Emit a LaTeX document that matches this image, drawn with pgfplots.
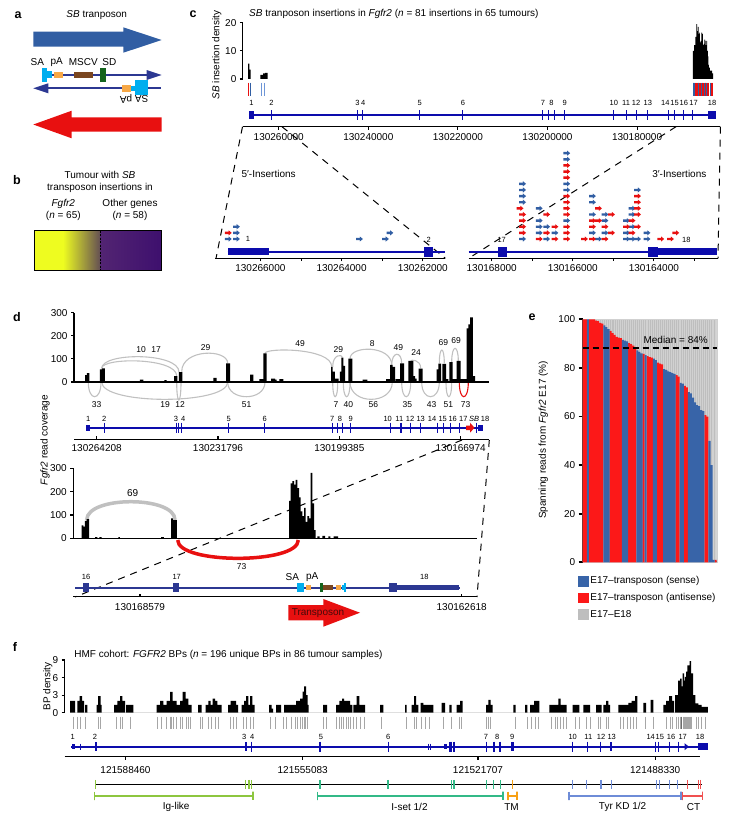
\documentclass[border=0pt]{standalone}
\usepackage{fontspec}
\setmainfont{Liberation Sans}
\usepackage{pgfplots}
\pgfplotsset{compat=1.18}

\definecolor{sbblue}{RGB}{49,94,163}
\definecolor{sbred}{RGB}{232,16,16}
\definecolor{ered}{RGB}{252,24,24}
\definecolor{eblue}{RGB}{56,100,168}
\definecolor{egray}{RGB}{190,190,190}
\definecolor{navy}{RGB}{44,56,146}
\definecolor{genebl}{RGB}{12,12,172}
\definecolor{sacyan}{RGB}{0,174,239}
\definecolor{paorange}{RGB}{247,168,70}
\definecolor{mscvbrown}{RGB}{122,70,32}
\definecolor{sdgreen}{RGB}{20,100,30}
\definecolor{arcgray}{RGB}{192,192,192}
\definecolor{lightsb}{RGB}{110,150,215}
\definecolor{iggreen}{RGB}{141,198,63}
\definecolor{isteal}{RGB}{50,185,135}
\definecolor{tmorange}{RGB}{247,160,20}
\definecolor{tyrblue}{RGB}{110,140,215}
\definecolor{ctred}{RGB}{240,80,80}
\definecolor{byellow}{RGB}{238,252,32}
\definecolor{bbrown}{RGB}{98,76,84}
\definecolor{bpurpleA}{RGB}{82,36,114}
\definecolor{bpurpleB}{RGB}{62,16,110}
\definecolor{tptext}{RGB}{70,10,10}

\newcommand{\fs}{\fontsize{10}{12}\selectfont}
\newcommand{\fsa}{\fontsize{8.5}{10}\selectfont}
\newcommand{\fsm}{\fontsize{7.5}{9}\selectfont}
\newcommand{\fpl}{\fontsize{12.5}{14}\selectfont\bfseries}
\newcommand{\rect}[5]{\addplot[fill=#1,draw=none] coordinates {(#2,#3)(#4,#3)(#4,#5)(#2,#5)} --cycle;}
\newcommand{\lbl}[4][\fsm]{\node[font=#1,inner sep=0pt] at (axis cs:#2,#3) {#4};}
\newcommand{\arc}[6][arcgray]{\draw[#1,line width=1.1pt] (axis cs:#2,#3) .. controls (axis cs:#2,#6) and (axis cs:#4,#6) .. (axis cs:#4,#5);}

\pgfdeclareplotmark{sbarrow}{%
  \pgfpathmoveto{\pgfqpoint{-3.4pt}{-1.2pt}}%
  \pgfpathlineto{\pgfqpoint{0.3pt}{-1.2pt}}%
  \pgfpathlineto{\pgfqpoint{0.3pt}{-2.6pt}}%
  \pgfpathlineto{\pgfqpoint{3.4pt}{0pt}}%
  \pgfpathlineto{\pgfqpoint{0.3pt}{2.6pt}}%
  \pgfpathlineto{\pgfqpoint{0.3pt}{1.2pt}}%
  \pgfpathlineto{\pgfqpoint{-3.4pt}{1.2pt}}%
  \pgfpathclose
  \pgfusepathqfill
}

\pgfplotsset{
  dataax/.style={scale only axis, anchor=north west, clip=false,
    /pgf/number format/assume math mode=true,
    tick label style={font=\fs}, axis line style={line width=1.1pt},
    major tick style={line width=1.1pt,black}, minor tick style={line width=0.9pt,black},
    tick align=outside, major tick length=3pt, minor tick length=2.5pt},
  genetick/.style={only marks, mark=|, mark size=5pt, genebl, mark options={line width=1.1pt}},
  ebar/.style={ybar, bar width=2.12pt, bar shift=0pt, forget plot},
}

\begin{document}
\begin{tikzpicture}
\path (0pt,0pt) rectangle (751pt,-824pt);
% ================= schematic layer in pixel coordinates =================
\begin{axis}[at={(0pt,0pt)}, anchor=north west, scale only axis, width=751pt, height=824pt,
  xmin=0, xmax=751, ymin=0, ymax=824, y dir=reverse, hide axis, clip=false]
% panel letters
\lbl[\fpl]{18}{15}{a}
\lbl[\fpl]{17}{180}{b}
\lbl[\fpl]{193}{14}{c}
\lbl[\fpl]{17}{317}{d}
\lbl[\fpl]{532}{317}{e}
\lbl[\fpl]{15}{647}{f}
% ---------- panel a ----------
\lbl[\fs]{96.7}{15}{\textit{SB} tranposon}
\addplot[fill=sbblue,draw=none] coordinates {(33.3,31.7)(123.3,31.7)(123.3,27.3)(161.7,40)(123.3,52.7)(123.3,46.7)(33.3,46.7)} --cycle;
\lbl[\fs]{37.3}{61.7}{SA}
\lbl[\fs]{56.7}{61.7}{pA}
\lbl[\fs]{83.3}{61.7}{MSCV}
\lbl[\fs]{109.3}{61.7}{SD}
\addplot[navy,line width=2pt] coordinates {(50,75)(148,75)};
\addplot[fill=navy,draw=none] coordinates {(146.7,70)(161.7,75)(146.7,80)} --cycle;
\rect{sacyan}{41.7}{68.3}{46.7}{81.7}
\rect{sacyan}{46.7}{70.7}{51.7}{78.3}
\rect{paorange}{54}{71.7}{62.7}{78.3}
\rect{mscvbrown}{74}{71.7}{92.7}{78.3}
\rect{sdgreen}{100}{68.3}{106}{81.7}
\addplot[navy,line width=2pt] coordinates {(47,88.3)(161,88.3)};
\addplot[fill=navy,draw=none] coordinates {(48.3,83.3)(33.3,88.3)(48.3,93.3)} --cycle;
\rect{paorange}{121.7}{85}{131}{91.7}
\rect{sacyan}{131}{86}{135.5}{90.7}
\rect{sacyan}{135}{80}{148.3}{95}
\node[font=\fs,rotate=180,inner sep=0pt] at (axis cs:126,99.3) {pA};
\node[font=\fs,rotate=180,inner sep=0pt] at (axis cs:141.7,99.3) {SA};
\addplot[fill=sbred,draw=none] coordinates {(161.7,117.3)(71.7,117.3)(71.7,110.7)(33.3,124.5)(71.7,138.3)(71.7,131.7)(161.7,131.7)} --cycle;
% ---------- panel b ----------
\lbl[\fs]{100}{175}{Tumour with \textit{SB}}
\lbl[\fs]{100}{187.5}{transposon insertions in}
\lbl[\fs]{63.3}{204}{\textit{Fgfr2}}
\lbl[\fs]{63.3}{216}{(\textit{n} = 65)}
\lbl[\fs]{130}{204}{Other genes}
\lbl[\fs]{130}{216}{(\textit{n} = 58)}
\rect{byellow}{34.3}{230.7}{63.2}{270}
\addplot[draw=none,left color=byellow,right color=bbrown] coordinates {(63,230.7)(100.7,230.7)(100.7,270)(63,270)} --cycle;
\addplot[draw=none,left color=bpurpleA,right color=bpurpleB] coordinates {(100.7,230.7)(161,230.7)(161,270)(100.7,270)} --cycle;
\addplot[black,line width=1pt] coordinates {(34.3,230.7)(161,230.7)(161,270)(34.3,270)} --cycle;
\addplot[black,line width=1.3pt,dash pattern=on 2pt off 1.5pt] coordinates {(100.7,230.7)(100.7,270)};
% ---------- panel c : texts, gene, zoom lines ----------
\node[font=\fs,anchor=west,inner sep=0pt] at (axis cs:249,14) {\textit{SB} tranposon insertions in \textit{Fgfr2} (\textit{n} = 81 insertions in 65 tumours)};
\node[font=\fs,rotate=90,inner sep=0pt] at (axis cs:216.8,55) {\textit{SB} insertion density};
\addplot[genebl,line width=1.6pt] coordinates {(248.9,115)(715.7,115)};
\rect{genebl}{248.9}{111.3}{253.6}{118.7}
\rect{genebl}{707.9}{111.3}{715.7}{118.7}
\addplot[genetick] coordinates {(271.4,115)(357.9,115)(362.9,115)(419.6,115)(462.9,115)(542.9,115)(548.2,115)(554.6,115)(564.6,115)(613.9,115)(626.1,115)(636.1,115)(647.9,115)(668.6,115)(674.6,115)(683.9,115)(692.9,115)};
\lbl{251.4}{103.3}{1}\lbl{271.4}{103.3}{2}\lbl{357.4}{103.3}{3}\lbl{363.2}{103.3}{4}
\lbl{419.6}{103.3}{5}\lbl{462.9}{103.3}{6}\lbl{542.9}{103.3}{7}\lbl{551.4}{103.3}{8}
\lbl{564.6}{103.3}{9}\lbl{613.9}{103.3}{10}\lbl{626.1}{103.3}{11}\lbl{636.1}{103.3}{12}
\lbl{647.9}{103.3}{13}\lbl{665.4}{103.3}{14}\lbl{674.6}{103.3}{15}\lbl{683.9}{103.3}{16}
\lbl{693.6}{103.3}{17}\lbl{712.1}{103.3}{18}
\addplot[black,line width=1pt,dash pattern=on 7pt off 6pt] coordinates {(242.5,126.7)(216,258.3)};
\addplot[black,line width=1pt,dash pattern=on 7pt off 6pt] coordinates {(282,126.7)(445.4,258.3)};
\addplot[black,line width=1pt,dash pattern=on 7pt off 6pt] coordinates {(676,126.7)(468.6,258.3)};
\addplot[black,line width=1pt,dash pattern=on 7pt off 6pt] coordinates {(720.4,126.7)(718,258.3)};
\lbl[\fs]{268.6}{174.3}{5′-Insertions}
\lbl[\fs]{679.3}{174.3}{3′-Insertions}
% sub gene left
\addplot[genebl,line width=1.6pt] coordinates {(227.5,251.7)(445.4,251.7)};
\rect{genebl}{227.5}{248.3}{269.3}{255}
\rect{genebl}{423.9}{247}{432.9}{256.7}
\lbl{247.9}{239}{1}\lbl{428.6}{239.5}{2}
% sub gene right
\addplot[genebl,line width=1.6pt] coordinates {(468.6,251.7)(716.8,251.7)};
\rect{genebl}{497.9}{247}{506.8}{256.7}
\rect{genebl}{648.2}{247}{657.9}{256.7}
\rect{genebl}{657.9}{248.3}{716.8}{255}
\lbl{501.7}{240}{17}\lbl{686.4}{240}{18}
% ---------- panel d : gene, arcs ----------
\node[font=\fs,rotate=90,inner sep=0pt] at (axis cs:45,440) {\textit{Fgfr2} read coverage};
\arc{101.7}{368.3}{179}{372}{352.2}
\arc{101.7}{368.3}{176.7}{376}{357.3}
\arc{181.7}{371.7}{227.7}{363.3}{348.6}
\arc{265}{353.3}{331.7}{366.7}{347.6}
\arc{332.7}{366.7}{342.3}{357.3}{354}
\arc{350}{358.7}{391.7}{365}{345.1}
\arc{391.7}{365}{401.7}{363.3}{351}
\arc{410.7}{361}{420.7}{368.3}{359.4}
\arc{439.3}{363.3}{444.3}{363.3}{345.6}
\arc{451.7}{362}{458.3}{361}{343.9}
\arc{88.3}{382}{101}{382}{401.6}
\arc{101.7}{382}{227.7}{382}{405.1}
\arc{176.7}{382}{181}{382}{406}
\arc{227.7}{382}{265}{382}{401.6}
\arc{332.7}{382}{337.7}{382}{401.6}
\arc{343.3}{382}{350}{382}{401.6}
\arc{350}{382}{392.3}{382}{405.1}
\arc{401.7}{382}{410.7}{382}{401.6}
\arc{421.7}{382}{439.3}{382}{401.6}
\arc{446}{382}{451.7}{382}{401.6}
\arc[sbred]{459.3}{382}{468.3}{382}{401.6}
\lbl[\fsa]{141}{349.3}{10}\lbl[\fsa]{156}{349.3}{17}\lbl[\fsa]{205.7}{347.3}{29}
\lbl[\fsa]{300}{343.3}{49}\lbl[\fsa]{338.3}{349.3}{29}\lbl[\fsa]{372.3}{343.3}{8}
\lbl[\fsa]{398.3}{347.3}{49}\lbl[\fsa]{416}{352.3}{24}\lbl[\fsa]{443.3}{342.3}{69}
\lbl[\fsa]{456}{340.7}{69}
\lbl[\fsa]{96.7}{404.3}{33}\lbl[\fsa]{165}{404.3}{19}\lbl[\fsa]{180}{404.3}{12}
\lbl[\fsa]{246.7}{404.3}{51}\lbl[\fsa]{336}{404.3}{7}\lbl[\fsa]{348.3}{404.3}{40}
\lbl[\fsa]{373.3}{404.3}{56}\lbl[\fsa]{407.3}{404.3}{35}\lbl[\fsa]{431.7}{404.3}{43}
\lbl[\fsa]{448.3}{404.3}{51}\lbl[\fsa]{465.7}{404.3}{73}
\addplot[genebl,line width=1.6pt] coordinates {(86,427.7)(482.7,427.7)};
\rect{genebl}{86}{424.7}{90}{430.7}
\rect{genebl}{478.3}{424.7}{482.7}{430.7}
\addplot[genetick] coordinates {(104.3,427.7)(176.7,427.7)(178.3,427.7)(181.7,427.7)(228.7,427.7)(264.7,427.7)(332.7,427.7)(337.7,427.7)(342.3,427.7)(350.7,427.7)(390.7,427.7)(401,427.7)(410.7,427.7)(420.7,427.7)(437.7,427.7)(443.3,427.7)(450.7,427.7)(459.3,427.7)(476.7,427.7)};
\addplot[fill=sbred,draw=none] coordinates {(466,425.5)(470,425.5)(470,422.7)(474.5,427.7)(470,432.7)(470,430)(466,430)} --cycle;
\lbl{88.3}{419}{1}\lbl{104.3}{419}{2}\lbl{176}{419}{3}\lbl{183.3}{419}{4}
\lbl{228.7}{419}{5}\lbl{264.7}{419}{6}\lbl{332.3}{419}{7}\lbl{340}{419}{8}
\lbl{350.7}{419}{9}\lbl{387.7}{419}{10}\lbl{399.3}{419}{11}\lbl{410}{419}{12}
\lbl{420.7}{419}{13}\lbl{432}{419}{14}\lbl{442.7}{419}{15}\lbl{452.7}{419}{16}
\lbl{463.3}{419}{17}\lbl{474}{419}{\textit{SB}}\lbl{485}{419}{18}
\addplot[black,line width=1pt,dash pattern=on 7pt off 6pt] coordinates {(462,440)(75,597)};
\addplot[black,line width=1pt,dash pattern=on 7pt off 6pt] coordinates {(489.3,440)(477,597)};
% lower d
\draw[arcgray,line width=3.5pt] (axis cs:86.7,520) .. controls (axis cs:86.7,495.6) and (axis cs:175,495.6) .. (axis cs:175,520);
\draw[sbred,line width=3.5pt] (axis cs:177.7,540) .. controls (axis cs:177.7,564.4) and (axis cs:298.3,564.4) .. (axis cs:298.3,540);
\lbl[\fs]{132.7}{493.3}{69}
\lbl[\fsa]{241.7}{566.7}{73}
\addplot[navy,line width=2pt] coordinates {(75,587.7)(460,587.7)};
\rect{navy}{82.7}{583.3}{89}{592.3}
\rect{navy}{173.3}{583.3}{179.3}{592.3}
\rect{navy}{389.3}{583.3}{396.7}{592.3}
\rect{navy}{396.7}{585.4}{459.3}{590}
\rect{sacyan}{296.7}{583.3}{304}{592.3}
\rect{paorange}{306}{585.4}{310.7}{590}
\rect{sdgreen}{320}{583.3}{322.7}{592.3}
\rect{mscvbrown}{323.3}{585.4}{333.3}{590}
\rect{paorange}{336}{585.4}{340.7}{590}
\rect{sacyan}{341.5}{585.4}{344}{590}
\rect{sacyan}{344}{583.3}{346}{592.3}
\lbl{86}{576.7}{16}\lbl{176.7}{576.7}{17}\lbl{424.3}{576.7}{18}
\lbl[\fs]{292.3}{576.7}{SA}\lbl[\fs]{312.3}{576.7}{pA}
\addplot[fill=sbred,draw=none] coordinates {(288.3,605)(323.3,605)(323.3,599)(360,612.7)(323.3,626.7)(323.3,620.4)(288.3,620.4)} --cycle;
\node[font=\fs,text=tptext,inner sep=0pt] at (axis cs:318,612.7) {Transposon};
% ---------- panel e label ----------
\node[font=\fs,rotate=90,inner sep=0pt] at (axis cs:543.3,440) {Spanning reads from \textit{Fgfr2} E17 (\%)};
% ---------- panel f ----------
\node[font=\fs,anchor=west,inner sep=0pt] at (axis cs:74.2,655) {HMF cohort: \textit{FGFR2} BPs (\textit{n} = 196 unique BPs in 86 tumour samples)};
\node[font=\fs,rotate=90,inner sep=0pt] at (axis cs:47.9,686.7) {BP density};
\addplot[genebl,line width=1.6pt] coordinates {(71,746.7)(708.3,746.7)};
\rect{genebl}{71.7}{744}{75}{749.3}
\rect{genebl}{95}{742}{96.9}{751.4}
\rect{genebl}{245}{742}{247.2}{751.4}
\rect{genebl}{444.3}{744}{446.7}{749.3}
\rect{genebl}{511.3}{742}{513.5}{751.4}
\rect{genebl}{610}{742}{612.2}{751.4}
\rect{genebl}{698.3}{743}{708.3}{750.4}
\addplot[fill=genebl,draw=none] coordinates {(684.5,743.2)(689,746.7)(684.5,750.2)} --cycle;
\addplot[genetick] coordinates {(251.7,746.7)(320,746.7)(388.3,746.7)(450,746.7)(451.7,746.7)(454,746.7)(486.7,746.7)(494,746.7)(500,746.7)(572.7,746.7)(587.7,746.7)(600.7,746.7)(655.7,746.7)(658.7,746.7)(669.3,746.7)(678.3,746.7)};
\addplot[only marks,mark=|,mark size=3pt,genebl,mark options={line width=1pt}] coordinates {(80.7,746.7)(428.3,746.7)(430.7,746.7)};
\lbl{72.7}{737.3}{1}\lbl{95}{737.3}{2}\lbl{244.3}{737.3}{3}\lbl{252.3}{737.3}{4}
\lbl{321}{737.3}{5}\lbl{388.3}{737.3}{6}\lbl{486}{737.3}{7}\lbl{497.3}{737.3}{8}
\lbl{512.3}{737.3}{9}\lbl{572.7}{737.3}{10}\lbl{588.3}{737.3}{11}\lbl{601}{737.3}{12}
\lbl{611.7}{737.3}{13}\lbl{650.7}{737.3}{14}\lbl{659.8}{737.3}{15}\lbl{671}{737.3}{16}
\lbl{682.7}{737.3}{17}\lbl{700}{737.3}{18}
% domain track
\addplot[black,line width=1.6pt] coordinates {(95.8,784.3)(701.6,784.3)};
\addplot[only marks,mark=|,mark size=4.7pt,iggreen,mark options={line width=1.1pt}] coordinates {(95.8,784.6)(245.2,784.6)(249,784.6)(251.4,784.6)};
\addplot[only marks,mark=|,mark size=4.7pt,isteal,mark options={line width=1.1pt}] coordinates {(320,784.6)(388,784.6)(451.6,784.6)(454,784.6)(486.1,784.6)(493.3,784.6)(500.5,784.6)};
\addplot[only marks,mark=|,mark size=4.7pt,tmorange,mark options={line width=1.1pt}] coordinates {(512.5,784.6)};
\addplot[only marks,mark=|,mark size=4.7pt,tyrblue,mark options={line width=1.1pt}] coordinates {(572.3,784.6)(586.7,784.6)(601,784.6)(611.1,784.6)(656.1,784.6)(659.5,784.6)(669.5,784.6)(677.7,784.6)};
\addplot[only marks,mark=|,mark size=4.7pt,ctred,mark options={line width=1.1pt}] coordinates {(687.3,784.6)(698.3,784.6)(700.2,784.6)};
\addplot[iggreen,line width=1.6pt] coordinates {(94.3,791.7)(94.3,800)(94.3,795.8)(252.9,795.8)(252.9,791.7)(252.9,800)};
\addplot[isteal,line width=1.6pt] coordinates {(317.5,791.7)(317.5,800)(317.5,795.8)(502.9,795.8)(502.9,791.7)(502.9,800)};
\addplot[tmorange,line width=1.6pt] coordinates {(507.7,791.7)(507.7,800)(507.7,795.8)(517.2,795.8)(517.2,791.7)(517.2,800)};
\addplot[tyrblue,line width=1.6pt] coordinates {(569,791.7)(569,800)(569,795.8)(681,795.8)(681,791.7)(681,800)};
\addplot[ctred,line width=1.6pt] coordinates {(682.5,791.7)(682.5,800)(682.5,795.8)(702.6,795.8)(702.6,791.7)(702.6,800)};
\lbl[\fs]{176.2}{807}{Ig-like}
\lbl[\fs]{409.5}{807}{I-set 1/2}
\lbl[\fs]{511.5}{807}{TM}
\lbl[\fs]{622.6}{807}{Tyr KD 1/2}
\lbl[\fs]{693.5}{807}{CT}
\end{axis}

% ================= panel c : density bars =================
\begin{axis}[dataax, at={(242.9pt,-22.7pt)}, width=477.5pt, height=56.3pt,
  xmin=2.0, xmax=108.6, ymin=0, ymax=20, axis x line=none, axis y line*=left, ytick={0,10,20}]
\addplot[const plot,fill=black,draw=none] coordinates {(3.19,5.5)(3.44,3.3)(3.75,0)} \closedcycle;
\addplot[const plot,fill=black,draw=none] coordinates {(5.91,1.5)(6.54,2.0)(6.94,2.2)(7.5,0)} \closedcycle;
\addplot[const plot,fill=black,draw=none] coordinates {(102.45,10)(102.75,12)(103.0,15)(103.24,19.5)(103.4,17)(103.56,18.5)(103.72,16)(103.88,16.5)(104.04,13)(104.20,13.5)(104.36,16.5)(104.52,16)(104.68,12)(104.84,12.5)(105.0,14)(105.16,13.5)(105.32,12)(105.48,13.5)(105.64,10)(105.80,8)(105.92,5)(106.03,4)(106.27,3)(106.51,3)(106.75,2)(106.99,0)} \closedcycle;
\addplot[only marks,mark=|,mark size=6.5pt,sbred,mark options={line width=1pt}] coordinates {(3.19,-3.62)(103.0,-3.62)(103.2,-3.62)(103.45,-3.62)(103.8,-3.62)(104.0,-3.62)(104.15,-3.62)(104.5,-3.62)(104.7,-3.62)(104.9,-3.62)(105.2,-3.62)(105.35,-3.62)(105.7,-3.62)(105.9,-3.62)(106.6,-3.62)(106.9,-3.62)};
\addplot[only marks,mark=|,mark size=6.5pt,sbblue,mark options={line width=1pt}] coordinates {(3.6,-3.62)(102.5,-3.62)(102.65,-3.62)(102.8,-3.62)(103.6,-3.62)(104.35,-3.62)(105.0,-3.62)(105.5,-3.62)(106.3,-3.62)};
\addplot[only marks,mark=|,mark size=6.5pt,lightsb,mark options={line width=1pt}] coordinates {(6.2,-3.62)(6.9,-3.62)};
\end{axis}
% genomic axis of c
\begin{axis}[dataax, anchor=south west, at={(242.9pt,-126.7pt)}, width=477.5pt, height=4pt,
  xmin=2.0, xmax=108.6, ymin=0, ymax=1, axis x line*=bottom, axis y line=none,
  xtick={10,30,50,70,90}, xticklabels={130260000,130240000,130220000,130200000,130180000}]
\addplot[draw=none] coordinates {(50,0.5)};
\end{axis}
% c left zoom
\begin{axis}[dataax, at={(215pt,-140pt)}, width=230.4pt, height=118.3pt,
  xmin=2.882, xmax=8.557, ymin=0, ymax=19.3, axis x line*=bottom, axis y line=none,
  xtick={4,6,8}, xticklabels={130266000,130264000,130262000}, minor xtick={5,7}]
\addplot[only marks,mark=sbarrow,sbblue] coordinates {(3.21,3.15)(3.41,3.15)(3.41,4.15)(3.41,5.15)(6.44,3.15)(7.08,3.15)(7.19,4.15)};
\addplot[only marks,mark=sbarrow,sbred] coordinates {(3.21,4.15)};
\end{axis}
% c right zoom
\begin{axis}[dataax, at={(468.6pt,-140pt)}, width=249.3pt, height=118.3pt,
  xmin=101.43, xmax=107.58, ymin=0, ymax=19.3, axis x line*=bottom, axis y line=none,
  xtick={102,104,106}, xticklabels={130168000,130166000,130164000}, minor xtick={103,105,107}]
\addplot[only marks,mark=sbarrow,sbblue] coordinates {
(102.763,3.15)(102.763,9.15)(102.763,10.15)(102.763,11.15)(102.763,12.15)
(103.173,4.15)(103.173,5.15)(103.173,6.15)(103.173,8.15)
(103.356,3.15)(103.356,5.15)
(103.560,4.15)
(103.852,6.15)(103.852,11.15)(103.852,12.15)(103.852,16.15)(103.852,17.15)
(104.486,4.15)(104.486,7.15)(104.486,9.15)(104.486,10.15)
(104.635,3.15)
(104.795,4.15)(104.795,6.15)(104.795,7.15)
(105.326,3.15)(105.326,4.15)(105.326,6.15)
(105.462,3.15)(105.462,5.15)(105.462,7.15)(105.462,8.15)
(105.598,3.15)(105.598,11.15)
(105.832,3.15)(105.832,4.15)};
\addplot[only marks,mark=sbarrow,sbred] coordinates {
(102.763,4.15)(102.763,5.15)(102.763,6.15)(102.763,7.15)(102.70,8.15)
(103.173,3.15)
(103.356,4.15)(103.356,7.15)
(103.560,3.15)(103.560,5.15)
(103.852,3.15)(103.852,4.15)(103.852,5.15)(103.852,7.15)(103.852,8.15)(103.852,9.15)(103.852,10.15)(103.852,13.15)(103.852,14.15)(103.852,15.15)
(104.289,3.15)
(104.486,3.15)(104.486,5.15)(104.486,6.15)
(104.635,6.15)(104.635,8.15)
(104.795,3.15)(104.795,5.15)
(104.956,4.15)(104.956,7.15)
(105.326,5.15)
(105.462,4.15)(105.462,6.15)
(105.598,5.15)(105.598,7.15)(105.598,8.15)(105.598,9.15)(105.598,10.15)
(106.170,3.15)(106.410,3.15)(106.541,4.15)};
\end{axis}

% ================= panel d : upper coverage =================
\begin{axis}[dataax, at={(74pt,-312.7pt)}, width=415.3pt, height=69.3pt,
  xmin=-0.27, xmax=110.68, ymin=0, ymax=300, axis x line*=bottom, axis y line*=left,
  xtick=\empty, ytick={0,100,200,300}]
\addplot[const plot,fill=black,draw=none] coordinates {(2.67,30)(3.2,38)(3.82,0)(6.67,55)(7.2,59)(8.01,0)(17.36,10)(18.25,0)(23.86,8)(24.49,0)(26.45,25)(27.34,0)(27.78,43)(28.67,0)(36.95,18)(37.84,0)(40.34,81)(41.41,0)(46.75,32)(47.64,0)(49.24,12)(50.31,124)(51.2,0)(52.36,15)(53.43,10)(53.87,0)(54.58,12)(55.65,0)(68.39,65)(68.83,45)(69.45,15)(70.43,0)(70.79,45)(71.15,105)(71.68,70)(72.13,0)(73.02,101)(74.09,0)(76.85,10)(78.10,0)(83.09,12)(84.16,74)(84.87,65)(85.49,0)(85.67,12)(86.83,81)(87.9,0)(89.06,91)(90.39,25)(90.84,15)(91.28,0)(91.82,58)(92.89,0)(96.63,55)(97.08,80)(97.79,0)(98.15,78)(99.13,12)(99.75,0)(100.02,86)(100.91,12)(101.98,91)(103.05,12)(104.65,232)(105.1,250)(105.54,280)(106.26,25)(106.88,0)} \closedcycle;
\end{axis}
\begin{axis}[dataax, anchor=south west, at={(74pt,-439.3pt)}, width=415.3pt, height=4pt,
  xmin=-0.27, xmax=110.68, ymin=0, ymax=1, axis x line*=bottom, axis y line=none, tick align=inside,
  xtick={5.792,38.204,70.615,103.026}, xticklabels={130264208,130231796,130199385,130166974},
  xticklabel style={yshift=-2pt}]
\addplot[draw=none] coordinates {(50,0.5)};
\end{axis}
% ================= panel d : lower coverage =================
\begin{axis}[dataax, at={(73.3pt,-468.3pt)}, width=403.4pt, height=70pt,
  xmin=0.185, xmax=7.66, ymin=0, ymax=300, axis x line*=bottom, axis y line*=left,
  xtick=\empty, ytick={0,100,200,300}]
\addplot[const plot,fill=black,draw=none] coordinates {(0.340,55)(0.370,50)(0.401,75)(0.432,82)(0.476,0)(0.588,5)(0.629,0)(0.666,5)(0.710,0)(1.019,5)(1.050,0)(1.812,5)(1.862,0)(1.997,85)(2.028,78)(2.102,0)(4.183,160)(4.213,235)(4.244,245)(4.276,230)(4.306,250)(4.337,215)(4.368,175)(4.399,115)(4.43,95)(4.461,130)(4.491,70)(4.522,95)(4.553,85)(4.584,280)(4.615,150)(4.646,35)(4.676,0)(4.708,8)(4.751,0)(4.8,10)(4.85,0)(4.91,8)(4.95,0)(5.01,8)(5.09,0)} \closedcycle;
\end{axis}
\begin{axis}[dataax, anchor=south west, at={(73.3pt,-596.7pt)}, width=403.4pt, height=4pt,
  xmin=0.185, xmax=7.66, ymin=0, ymax=1, axis x line*=bottom, axis y line=none, tick align=inside,
  xtick={1.421,7.382}, xticklabels={130168579,130162618}, xticklabel style={yshift=-3pt}]
\addplot[draw=none] coordinates {(3,0.5)};
\end{axis}

% ================= panel e =================
\begin{axis}[dataax, at={(582.7pt,-319.3pt)}, width=134pt, height=243pt,
  xmin=0, xmax=65, ymin=0, ymax=100, axis x line*=bottom, axis y line*=left, xtick=\empty,
  ytick={0,20,40,60,80,100}, axis line style={line width=1.8pt}, major tick style={line width=1.8pt},
  major tick length=4pt,
  legend style={at={(-0.035,-0.05)}, anchor=north west, draw=none, fill=none, font=\fs,
    row sep=4pt, inner sep=0pt}, legend cell align=left]
\addplot[ebar,fill=egray,draw=white!30!egray,line width=0.2pt] coordinates {(0.5,100)(1.5,100)(2.5,100)(3.5,100)(4.5,100)(5.5,100)(6.5,100)(7.5,100)(8.5,100)(9.5,100)(10.5,100)(11.5,100)(12.5,100)(13.5,100)(14.5,100)(15.5,100)(16.5,100)(17.5,100)(18.5,100)(19.5,100)(20.5,100)(21.5,100)(22.5,100)(23.5,100)(24.5,100)(25.5,100)(26.5,100)(27.5,100)(28.5,100)(29.5,100)(30.5,100)(31.5,100)(32.5,100)(33.5,100)(34.5,100)(35.5,100)(36.5,100)(37.5,100)(38.5,100)(39.5,100)(40.5,100)(41.5,100)(42.5,100)(43.5,100)(44.5,100)(45.5,100)(46.5,100)(47.5,100)(48.5,100)(49.5,100)(50.5,100)(51.5,100)(52.5,100)(53.5,100)(54.5,100)(55.5,100)(56.5,100)(57.5,100)(58.5,100)(59.5,100)(60.5,100)(61.5,100)(62.5,100)(63.5,100)(64.5,100)};
\addplot[ebar,fill=ered,draw=none] coordinates {(0.5,100)(1.5,100)(3.5,100)(4.5,100)(5.5,100)(6.5,99.5)(7.5,99.2)(8.5,98.5)(9.5,98.2)(13.5,95.2)(14.5,94.3)(15.5,93.6)(16.5,92.8)(17.5,92.5)(18.5,92.3)(22.5,90.2)(23.5,89.8)(24.5,89.2)(25.5,88.3)(29.5,85.8)(31.5,84.8)(32.5,84.4)(33.5,84.2)(36.5,82.2)(37.5,81.8)(38.5,81.5)(45.5,77.0)(46.5,76.4)(49.5,72.6)(50.5,72.0)(59.5,60.6)(60.5,60.0)(64.5,1)};
\addplot[ebar,fill=eblue,draw=none] coordinates {(2.5,100)(10.5,97.5)(11.5,96.8)(12.5,96.0)(19.5,91.5)(20.5,91.2)(21.5,90.9)(26.5,87.2)(27.5,86.6)(28.5,86.0)(30.5,85.3)(34.5,83.8)(35.5,83.2)(39.5,79.5)(40.5,79.2)(41.5,78.6)(42.5,78.3)(43.5,77.9)(44.5,77.5)(47.5,73.8)(48.5,73.5)(51.5,70.0)(52.5,69.5)(53.5,67.8)(54.5,65.8)(55.5,64.7)(56.5,64.3)(57.5,62.6)(58.5,62.2)(61.5,50)(62.5,40)(63.5,1)};
\addplot[black,line width=1.6pt,dash pattern=on 6pt off 4pt,forget plot] coordinates {(0,88.3)(65,88.3)};
\node[font=\fs,inner sep=0pt] at (axis cs:45.1,91.6) {Median = 84\%};
\addlegendimage{legend image code/.code={\fill[eblue] (0pt,-4.9pt) rectangle (9.8pt,4.9pt);}}
\addlegendentry{E17–transposon (sense)}
\addlegendimage{legend image code/.code={\fill[ered] (0pt,-4.9pt) rectangle (9.8pt,4.9pt);}}
\addlegendentry{E17–transposon (antisense)}
\addlegendimage{legend image code/.code={\fill[egray] (0pt,-4.9pt) rectangle (9.8pt,4.9pt);}}
\addlegendentry{E17–E18}
\end{axis}

% ================= panel f =================
\begin{axis}[dataax, at={(64.7pt,-660pt)}, width=644.1pt, height=52.7pt,
  xmin=64.7, xmax=708.8, ymin=0, ymax=9, axis x line=none, axis y line*=left, ytick={0,3,6,9}]
\addplot[const plot,fill=black,draw=none] coordinates {(70,2.0)(75,0)(77.3,2.0)(79.5,2.85)(82,2.0)(84,0)(85,1.35)(87.3,0)(96.7,1.35)(98,2.85)(100.5,1.35)(101.7,0)(114,1.35)(117.3,2.0)(120,2.85)(122.3,2.0)(125,0)(126,1.35)(133.3,0)(156.7,1.35)(160,2.0)(163.3,1.35)(166.7,2.0)(170,3.55)(172.7,2.0)(176.7,1.35)(180,2.0)(182.7,3.55)(185.7,2.4)(188.3,1.35)(191.7,0)(198,1.35)(201.7,0)(205.7,1.35)(208.3,2.0)(210.7,1.35)(212.7,2.4)(215,2.0)(217.3,1.35)(221.7,0)(228,1.35)(230.7,2.0)(233.3,2.0)(236,1.35)(238,0)(241.7,1.35)(244,2.0)(246,2.85)(248.3,1.35)(250,2.85)(252.3,1.35)(254.7,0)(269,1.35)(271.7,0.7)(273,0)(276,1.35)(281,0)(284,1.35)(296,2.0)(300,2.4)(302.7,3.6)(304,4.5)(306,3.0)(307.7,1.35)(308.7,0)(323,1.35)(327,0)(336,1.35)(339.3,2.0)(342,2.4)(344,2.0)(347.3,2.0)(350,1.35)(352.3,0)(353.3,1.35)(356.7,2.85)(359.3,1.35)(365,0)(380,1.35)(383.3,0)(405,1.35)(406.7,0)(411.7,1.35)(414,2.85)(416,1.35)(418.3,0)(420.7,1.7)(423.3,1.35)(433.3,0)(441.7,1.7)(445,0)(449.3,1.35)(451.7,0)(456.7,1.35)(460,2.0)(462.7,0)(486,1.35)(488.3,2.2)(490.7,1.35)(492.7,0)(513.3,1.35)(515.7,0)(525,1.35)(527.3,0)(530,1.35)(534,2.0)(539.3,0)(549.3,1.35)(558.3,2.4)(560.7,1.35)(566.7,0)(572.7,1.35)(579.3,0)(583.3,1.35)(590,0)(596,1.35)(601.7,0)(603.3,1.35)(606,2.0)(608.3,1.35)(610,0)(618.3,1.35)(628.3,1.7)(631.7,2.0)(635,2.85)(637.3,0)(643.3,1.7)(646,0)(650.7,2.2)(653.3,0)(663.3,1.35)(666,2.0)(669,2.85)(672,2.0)(674,0)(675,3)(678,5.5)(680.1,5.8)(681.5,4.5)(682.5,6.7)(684,5.5)(684.9,6.1)(686,7.0)(687.3,8.1)(689.7,8.8)(691.1,6.7)(693,3.0)(695.4,1.6)(698.3,1.35)(701.6,1.0)(707.9,0)} \closedcycle;
\addplot[only marks,mark=|,mark size=6.3pt,black,opacity=0.35,mark options={line width=0.9pt}] coordinates {(73.3,-1.76)(77.3,-1.76)(80.7,-1.76)(85,-1.76)(98.3,-1.76)(100,-1.76)(116,-1.76)(120,-1.76)(122.7,-1.76)(130,-1.76)(157.3,-1.76)(161.7,-1.76)(166,-1.76)(170,-1.76)(171.7,-1.76)(173.3,-1.76)(176.7,-1.76)(180,-1.76)(182.7,-1.76)(186,-1.76)(188.3,-1.76)(190.7,-1.76)(200,-1.76)(202.7,-1.76)(208.3,-1.76)(211.7,-1.76)(215,-1.76)(218.3,-1.76)(230,-1.76)(233.3,-1.76)(236.7,-1.76)(243.3,-1.76)(246.7,-1.76)(250,-1.76)(253.3,-1.76)(270,-1.76)(275,-1.76)(283.3,-1.76)(286.7,-1.76)(291.7,-1.76)(295,-1.76)(297.3,-1.76)(300,-1.76)(302.3,-1.76)(304,-1.76)(305.7,-1.76)(307.3,-1.76)(323.3,-1.76)(326.7,-1.76)(336.7,-1.76)(339.3,-1.76)(341.7,-1.76)(343.3,-1.76)(346,-1.76)(348.3,-1.76)(350.7,-1.76)(353.3,-1.76)(356.7,-1.76)(360,-1.76)(364,-1.76)(381.7,-1.76)(406.7,-1.76)(414,-1.76)(416.7,-1.76)(421.7,-1.76)(425,-1.76)(429.3,-1.76)(443.3,-1.76)(451.7,-1.76)(459.3,-1.76)(461.7,-1.76)(486.7,-1.76)(488.7,-1.76)(490.7,-1.76)(515,-1.76)(527.3,-1.76)(531.7,-1.76)(535,-1.76)(538.3,-1.76)(551.7,-1.76)(555,-1.76)(557.7,-1.76)(560,-1.76)(563.3,-1.76)(566.7,-1.76)(575,-1.76)(579.3,-1.76)(586.7,-1.76)(590,-1.76)(598.3,-1.76)(600.7,-1.76)(606,-1.76)(608.3,-1.76)(620,-1.76)(623.3,-1.76)(627.3,-1.76)(630.7,-1.76)(633.3,-1.76)(636,-1.76)(645,-1.76)(653.3,-1.76)(666.7,-1.76)(670,-1.76)(672.7,-1.76)(676.7,-1.76)(678.3,-1.76)(680,-1.76)(681,-1.76)(681.7,-1.76)(683.3,-1.76)(684,-1.76)(685,-1.76)(686.7,-1.76)(687.5,-1.76)(688.3,-1.76)(689,-1.76)(690,-1.76)(691.7,-1.76)(696,-1.76)(698.3,-1.76)(701.7,-1.76)(705,-1.76)};
\end{axis}
\begin{axis}[dataax, anchor=south west, at={(64.7pt,-756.5pt)}, width=635.5pt, height=4pt,
  xmin=64.7, xmax=700.2, ymin=0, ymax=1, axis x line*=bottom, axis y line=none,
  axis line style={line width=1.6pt}, major tick style={line width=1.4pt},
  xtick={125.5,302.7,478,655.2}, xticklabels={121588460,121555083,121521707,121488330},
  xticklabel style={yshift=-3pt}]
\addplot[draw=none] coordinates {(300,0.5)};
\end{axis}
\end{tikzpicture}
\end{document}
